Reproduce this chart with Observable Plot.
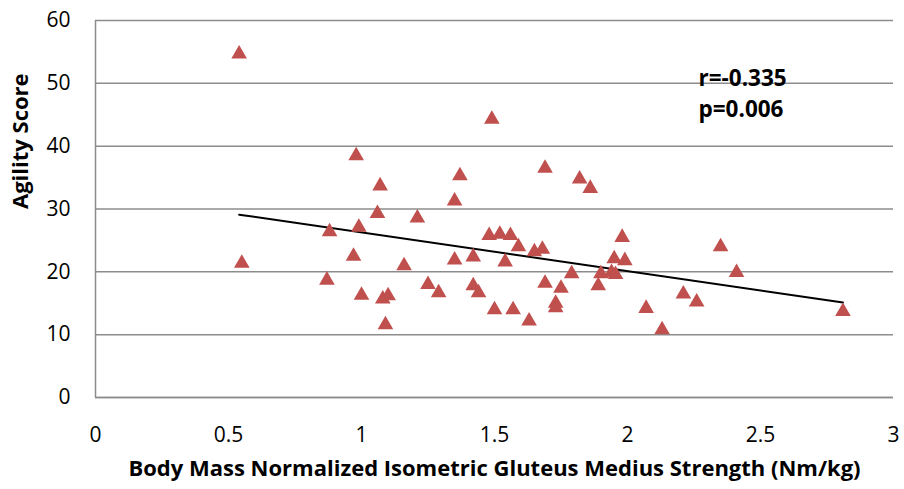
<!DOCTYPE html>
<html>
<head>
<meta charset="utf-8">
<script src="https://cdn.jsdelivr.net/npm/d3@7"></script>
<script src="https://cdn.jsdelivr.net/npm/@observablehq/plot@0.6"></script>
<style>
  html, body { margin: 0; padding: 0; background: #fff; }
  #chart svg { display: block; }
</style>
</head>
<body>
<div id="chart"></div>
<script>
// Body mass normalized isometric gluteus medius strength (Nm/kg)
const strength = [
  0.54, 0.55, 0.98, 1.07, 1.06, 0.88, 0.99, 1.21, 1.35, 1.37,
  0.97, 1.16, 1.35, 0.87, 1.00, 1.08, 1.10, 1.25, 1.29, 1.09,
  1.49, 1.69, 1.82, 1.86, 1.48, 1.52, 1.56, 1.59, 1.65, 1.68,
  1.98, 1.95, 1.99, 1.90, 1.94, 1.955, 1.79, 1.89, 1.69, 1.75,
  1.73, 1.73, 1.54, 1.42, 1.42, 1.44, 1.50, 1.57, 1.63, 2.07,
  2.35, 2.41, 2.21, 2.26, 2.13, 2.81
];
// Agility score
const agility = [
  55.0, 21.7, 38.8, 34.0, 29.6, 26.7, 27.4, 28.9, 31.6, 35.6,
  22.8, 21.3, 22.2, 19.0, 16.6, 16.0, 16.5, 18.3, 17.0, 11.9,
  44.6, 36.8, 35.1, 33.6, 26.1, 26.3, 26.1, 24.3, 23.5, 23.9,
  25.8, 22.4, 22.1, 20.0, 20.2, 19.9, 20.0, 18.1, 18.5, 17.7,
  15.3, 14.6, 21.9, 22.7, 18.1, 17.0, 14.3, 14.3, 12.5, 14.5,
  24.3, 20.2, 16.8, 15.5, 11.1, 14.0
];
const xTicks = [0, 0.5, 1, 1.5, 2, 2.5, 3];
const yTicks = [0, 10, 20, 30, 40, 50, 60];
const xTitle = "Body Mass Normalized Isometric Gluteus Medius Strength (Nm/kg)";
const yTitle = "Agility Score";
const stats = ["r=-0.335", "p=0.006"];

const data = strength.map((s, i) => ({x: s, y: agility[i]}));

const font = "'Open Sans', 'Noto Sans', sans-serif";
const grid = "#8c8c8c";

const chart = Plot.plot({
  width: 904,
  height: 489,
  marginLeft: 95,
  marginRight: 11,
  marginTop: 20,
  marginBottom: 92,
  style: {fontFamily: font, background: "#fff", color: "#000"},
  x: {domain: [0, 3], ticks: xTicks},
  y: {domain: [0, 60], ticks: yTicks},
  marks: [
    Plot.gridY(yTicks, {stroke: grid, strokeOpacity: 1, strokeWidth: 1.5}),
    Plot.ruleX([0], {stroke: grid, strokeWidth: 1.5}),
    Plot.ruleY([0], {stroke: grid, strokeWidth: 1.5}),
    Plot.axisY(yTicks, {tickSize: 0, tickPadding: 25, fontSize: 21, label: null, tickFormat: d => String(d)}),
    Plot.axisX(xTicks, {tickSize: 0, tickPadding: 30, fontSize: 21, label: null, tickFormat: d => String(d)}),
    Plot.linearRegressionY(data, {x: "x", y: "y", ci: 0, stroke: "#000", strokeWidth: 2}),
    Plot.dot(data, {x: "x", y: "y", symbol: "triangle", r: 5.8, fill: "#c0504d", stroke: "none", dy: 2}),
    Plot.text([stats.join("\n")], {frameAnchor: "top-left", dx: 603, dy: 71, textAnchor: "start", lineAnchor: "middle", lineHeight: 1.38, fontSize: 22.5, fontWeight: "bold", fill: "#000"}),
    Plot.text([xTitle], {frameAnchor: "bottom", dy: 71, lineAnchor: "middle", fontSize: 22, fontWeight: "bold", fill: "#000"}),
    Plot.text([yTitle], {frameAnchor: "left", dx: -75, rotate: -90, lineAnchor: "middle", fontSize: 22, fontWeight: "bold", fill: "#000"})
  ]
});
document.getElementById("chart").appendChild(chart);
</script>
</body>
</html>
